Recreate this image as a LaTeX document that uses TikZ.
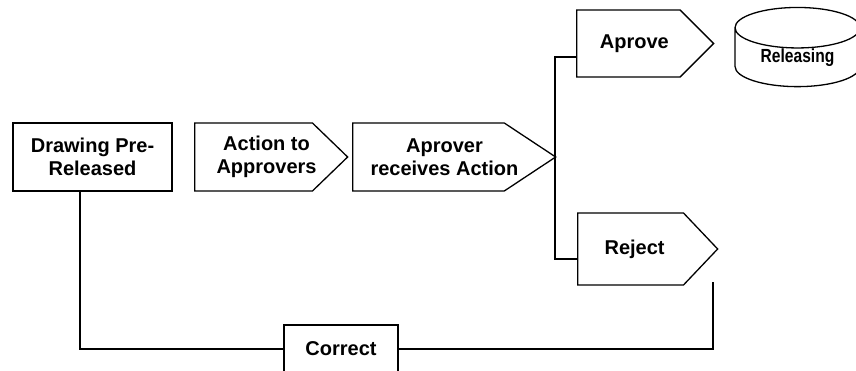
\documentclass[tikz,border=0pt]{standalone}
\usepackage{fontspec}
\setmainfont{Liberation Sans}
\newfontfamily\narrowfont[FakeStretch=0.82]{Liberation Sans}
\usetikzlibrary{shapes.symbols,shapes.geometric}

\begin{document}
\begin{tikzpicture}[x=1pt, y=1pt, line width=1.3pt,
  lbl/.style={font=\bfseries\fontsize{20}{23}\selectfont, align=center},
  stepbox/.style={lbl, draw, rectangle, inner sep=0pt},
  flag/.style={draw, signal, signal to=east, inner sep=0pt, anchor=west}]
\useasboundingbox (0,0) rectangle (856,371);

%------------------ STEPS ------------------%
\node[stepbox, minimum width=159, minimum height=68] (pre) at (92.5,214) {Drawing Pre-\\Released};

\node[flag, minimum width=153, minimum height=68, signal pointer angle=88,
  label={[lbl, xshift=13]center:Action to\\Approvers}]
  (act) at (194,214) {};
\node[flag, minimum width=203, minimum height=68, signal pointer angle=67,
  label={[lbl, xshift=16]center:Aprover\\receives Action}]
  (aprover) at (352,214) {};

\node[flag, minimum width=137, minimum height=67, signal pointer angle=90,
  label={[lbl, xshift=6]center:Aprove}]
  (aprove) at (576,327.5) {};
\node[flag, minimum width=140, minimum height=72, signal pointer angle=93,
  label={[lbl, xshift=4]center:Reject}]
  (reject) at (577,122) {};

% storage
\node[draw, cylinder, shape border rotate=90, aspect=0.55,
  minimum width=125, minimum height=79, inner sep=0pt,
  font=\narrowfont\bfseries\fontsize{19}{23}\selectfont]
  (rel) at (797.5,313.5) {Releasing};

\node[stepbox, minimum width=114, minimum height=48] (correct) at (341,22) {Correct};

%------------------ CONNECTORS ------------------%
\coordinate (bustop) at (555,314);
\coordinate (busbot) at (555,112);
\coordinate (back) at (713,89);

\draw (aprove.west |- bustop) -- (bustop) -- (busbot) -- (reject.west |- busbot);
\draw ([xshift=-12.5]pre.south) |- (correct.west);
\draw (correct.east) -| (back);

\end{tikzpicture}
\end{document}
